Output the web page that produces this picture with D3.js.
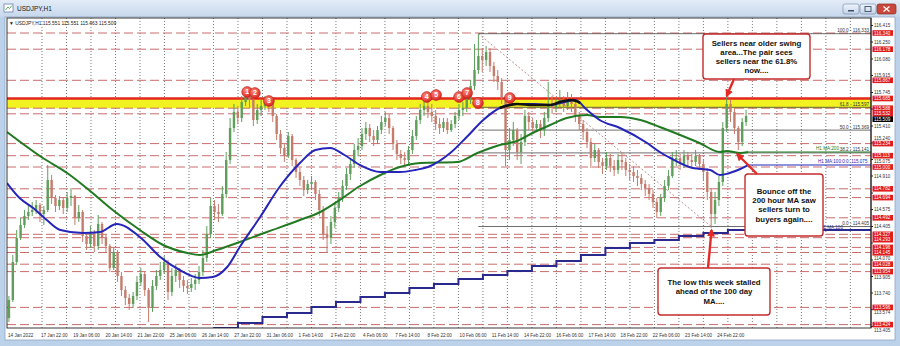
<!DOCTYPE html>
<html>

<head>
    <meta charset="utf-8">
    <title>USDJPY,H1</title>
    <script src="https://d3js.org/d3.v7.min.js"></script>
    <style>
        body {
            margin: 0;
            background: #bcd2ea;
            font-family: 'Liberation Sans', Arial, sans-serif;
        }

        svg {
            display: block;
        }
    </style>
</head>

<body>
    <div id="chart"></div>
    <script>
        // 4-hour candles (price)
        const opens = [113.49, 113.67, 114.05, 114.29, 114.42, 114.51, 114.55, 114.57, 114.62, 114.53,
            114.57, 114.87, 114.69, 114.61, 114.67, 114.59, 114.69, 114.71, 114.49, 114.55,
            114.31, 114.23, 114.35, 114.21, 114.43, 114.29, 114.21, 113.99, 114.15, 113.91,
            113.77, 113.69, 113.63, 113.71, 113.85, 113.93, 113.77, 113.59, 113.81, 113.91,
            113.97, 114.05, 113.75, 113.91, 113.97, 113.87, 113.81, 113.79, 113.83, 113.87,
            113.95, 114.09, 114.33, 114.61, 114.55, 114.53, 114.73, 115.07, 115.39, 115.55,
            115.49, 115.65, 115.71, 115.67, 115.47, 115.57, 115.61, 115.67, 115.63, 115.51,
            115.33, 115.19, 115.11, 115.31, 115.07, 114.95, 114.87, 114.77, 114.83, 114.85,
            114.73, 114.57, 114.33, 114.29, 114.45, 114.59, 114.69, 114.81, 114.93, 115.03,
            115.17, 115.21, 115.33, 115.39, 115.31, 115.27, 115.37, 115.45, 115.49, 115.39,
            115.23, 115.13, 115.09, 115.07, 115.17, 115.31, 115.47, 115.57, 115.61, 115.55,
            115.51, 115.43, 115.39, 115.45, 115.37, 115.43, 115.51, 115.57, 115.59, 115.67,
            115.81, 115.97, 116.11, 116.07, 116.15, 116.01, 115.91, 115.85, 115.69, 115.17,
            115.27, 115.37, 115.15, 115.25, 115.51, 115.45, 115.39, 115.43, 115.37, 115.49,
            115.63, 115.59, 115.63, 115.67, 115.61, 115.67, 115.63, 115.51, 115.43, 115.35,
            115.25, 115.09, 115.17, 115.05, 115.01, 115.09, 115.01, 114.97, 115.07, 115.05,
            114.97, 114.95, 114.91, 114.89, 114.83, 114.79, 114.73, 114.65, 114.55, 114.69,
            114.81, 114.91, 115.07, 115.09, 115.03, 115.11, 115.07, 115.05, 115.11, 115.03,
            114.95, 114.75, 114.53, 114.67, 114.85, 115.39, 115.63, 115.55, 115.39, 115.25,
            115.45];
        const highs = [113.71, 114.12, 114.37, 114.49, 114.57, 114.62, 114.65, 114.67, 114.64, 114.61,
            115.02, 114.92, 114.72, 114.71, 114.69, 114.75, 114.79, 114.72, 114.62, 114.57,
            114.35, 114.41, 114.37, 114.52, 114.45, 114.33, 114.23, 114.19, 114.17, 113.95,
            113.81, 113.73, 113.75, 113.91, 113.99, 113.95, 113.79, 113.87, 113.97, 114.05,
            114.11, 114.07, 113.99, 114.03, 113.99, 113.91, 113.87, 113.89, 113.93, 114.01,
            114.17, 114.41, 114.69, 114.67, 114.63, 114.81, 115.15, 115.49, 115.63, 115.61,
            115.71, 115.75, 115.75, 115.71, 115.63, 115.67, 115.71, 115.70, 115.65, 115.53,
            115.37, 115.23, 115.35, 115.33, 115.09, 114.99, 114.91, 114.87, 114.91, 114.87,
            114.77, 114.61, 114.41, 114.51, 114.65, 114.75, 114.87, 114.99, 115.09, 115.23,
            115.29, 115.39, 115.45, 115.43, 115.37, 115.41, 115.51, 115.55, 115.53, 115.41,
            115.27, 115.17, 115.15, 115.21, 115.37, 115.51, 115.63, 115.67, 115.69, 115.63,
            115.57, 115.49, 115.49, 115.49, 115.47, 115.55, 115.63, 115.65, 115.73, 115.87,
            116.23, 116.33, 116.19, 116.21, 116.19, 116.05, 115.97, 115.89, 115.71, 115.39,
            115.45, 115.39, 115.33, 115.57, 115.55, 115.49, 115.47, 115.47, 115.55, 115.85,
            115.71, 115.69, 115.77, 115.71, 115.75, 115.73, 115.67, 115.55, 115.47, 115.39,
            115.29, 115.23, 115.19, 115.09, 115.15, 115.13, 115.07, 115.13, 115.15, 115.09,
            115.03, 115.01, 114.97, 114.93, 114.87, 114.83, 114.77, 114.69, 114.73, 114.87,
            114.97, 115.15, 115.17, 115.13, 115.17, 115.15, 115.13, 115.17, 115.13, 115.07,
            114.99, 114.79, 114.75, 114.91, 115.45, 115.70, 115.67, 115.59, 115.41, 115.49,
            115.57];
        const lows = [113.45, 113.65, 114.02, 114.27, 114.39, 114.47, 114.51, 114.53, 114.45, 114.42,
            114.55, 114.63, 114.55, 114.57, 114.53, 114.55, 114.61, 114.42, 114.45, 114.25,
            114.17, 114.19, 114.15, 114.17, 114.23, 114.15, 113.95, 113.97, 113.85, 113.71,
            113.62, 113.57, 113.59, 113.67, 113.81, 113.71, 113.45, 113.55, 113.77, 113.87,
            113.93, 113.67, 113.71, 113.85, 113.79, 113.75, 113.73, 113.75, 113.77, 113.83,
            113.91, 114.05, 114.29, 114.47, 114.45, 114.51, 114.69, 115.03, 115.35, 115.43,
            115.45, 115.61, 115.59, 115.41, 115.43, 115.51, 115.57, 115.55, 115.45, 115.27,
            115.13, 115.05, 115.09, 115.01, 114.89, 114.81, 114.71, 114.73, 114.77, 114.67,
            114.51, 114.27, 114.15, 114.23, 114.39, 114.55, 114.65, 114.77, 114.87, 114.99,
            115.11, 115.17, 115.27, 115.25, 115.21, 115.23, 115.33, 115.41, 115.33, 115.17,
            115.07, 115.03, 115.01, 115.03, 115.13, 115.27, 115.43, 115.51, 115.49, 115.45,
            115.37, 115.33, 115.35, 115.33, 115.35, 115.39, 115.47, 115.51, 115.55, 115.63,
            115.77, 115.93, 115.95, 116.01, 115.95, 115.85, 115.77, 115.63, 115.01, 115.07,
            115.21, 115.07, 115.03, 115.21, 115.37, 115.35, 115.35, 115.29, 115.31, 115.45,
            115.53, 115.55, 115.59, 115.55, 115.57, 115.55, 115.45, 115.37, 115.27, 115.19,
            114.99, 115.05, 114.99, 114.93, 114.97, 114.95, 114.91, 114.93, 114.97, 114.91,
            114.87, 114.85, 114.81, 114.77, 114.71, 114.67, 114.59, 114.49, 114.51, 114.65,
            114.77, 114.89, 115.01, 114.97, 114.99, 115.01, 114.99, 115.01, 114.97, 114.87,
            114.67, 114.39, 114.43, 114.61, 114.81, 115.35, 115.45, 115.33, 115.17, 115.21,
            115.41];
        const closes = [113.67, 114.05, 114.29, 114.42, 114.51, 114.55, 114.57, 114.62, 114.53, 114.57,
            114.87, 114.69, 114.61, 114.67, 114.59, 114.69, 114.71, 114.49, 114.55, 114.31,
            114.23, 114.35, 114.21, 114.43, 114.29, 114.21, 113.99, 114.15, 113.91, 113.77,
            113.69, 113.63, 113.71, 113.85, 113.93, 113.77, 113.59, 113.81, 113.91, 113.97,
            114.05, 113.75, 113.91, 113.97, 113.87, 113.81, 113.79, 113.83, 113.87, 113.95,
            114.09, 114.33, 114.61, 114.55, 114.53, 114.73, 115.07, 115.39, 115.55, 115.49,
            115.65, 115.71, 115.67, 115.47, 115.57, 115.61, 115.67, 115.63, 115.51, 115.33,
            115.19, 115.11, 115.31, 115.07, 114.95, 114.87, 114.77, 114.83, 114.85, 114.73,
            114.57, 114.33, 114.29, 114.45, 114.59, 114.69, 114.81, 114.93, 115.03, 115.17,
            115.21, 115.33, 115.39, 115.31, 115.27, 115.37, 115.45, 115.49, 115.39, 115.23,
            115.13, 115.09, 115.07, 115.17, 115.31, 115.47, 115.57, 115.61, 115.55, 115.51,
            115.43, 115.39, 115.45, 115.37, 115.43, 115.51, 115.57, 115.59, 115.67, 115.81,
            115.97, 116.11, 116.07, 116.15, 116.01, 115.91, 115.85, 115.69, 115.17, 115.27,
            115.37, 115.15, 115.25, 115.51, 115.45, 115.39, 115.43, 115.37, 115.49, 115.63,
            115.59, 115.63, 115.67, 115.61, 115.67, 115.63, 115.51, 115.43, 115.35, 115.25,
            115.09, 115.17, 115.05, 115.01, 115.09, 115.01, 114.97, 115.07, 115.05, 114.97,
            114.95, 114.91, 114.89, 114.83, 114.79, 114.73, 114.65, 114.55, 114.69, 114.81,
            114.91, 115.07, 115.09, 115.03, 115.11, 115.07, 115.05, 115.11, 115.03, 114.95,
            114.75, 114.53, 114.67, 114.85, 115.39, 115.63, 115.55, 115.39, 115.25, 115.45,
            115.51];

        // moving averages: [candle position, price]
        const ma200h = [[0, 115.35], [9.25, 115.09], [15.5, 114.94], [20.5, 114.79], [27.25, 114.57],
        [34.25, 114.37], [40.25, 114.22], [46.5, 114.14], [49.75, 114.12], [54, 114.17], [60, 114.25],
        [67, 114.35], [75.5, 114.47], [80.75, 114.55], [85.75, 114.67], [91, 114.81], [96.25, 114.92],
        [101.25, 115.00], [106.5, 115.04], [116, 115.05], [121.25, 115.14], [127, 115.22], [131.5, 115.26],
        [135.5, 115.34], [140, 115.42], [144.25, 115.49], [149.5, 115.52], [152.75, 115.50], [158, 115.50],
        [163.25, 115.47], [168.25, 115.40], [173.5, 115.32], [178.5, 115.24], [183.75, 115.15],
        [185.5, 115.16], [189, 115.14], [191, 115.15]];
        const ma100h = [[0, 114.84], [3.25, 114.69], [6.75, 114.59], [10.25, 114.47], [13.75, 114.37],
        [19.5, 114.34], [24, 114.35], [28.25, 114.43], [34.25, 114.30], [39.5, 114.10], [44.5, 113.97],
        [49.75, 113.89], [53, 113.90], [56.75, 114.00], [60, 114.20], [65.25, 114.50], [70.25, 114.80],
        [75.5, 115.04], [79.5, 115.17], [83.25, 115.19], [87, 115.12], [91, 115.02], [96.25, 114.95],
        [101.25, 114.95], [105.25, 114.97], [108.5, 115.00], [114.25, 115.14], [118.5, 115.30],
        [122.75, 115.47], [127, 115.59], [131, 115.63], [136, 115.63], [140, 115.62], [143.75, 115.65],
        [146.5, 115.67], [149.5, 115.57], [152.75, 115.47], [158, 115.39], [165, 115.24], [168.25, 115.15],
        [171, 115.09], [176.75, 114.99], [181.25, 114.97], [183.75, 114.92], [186.25, 114.94],
        [189, 114.98], [191, 115.02]];
        const ma100hHighlight = [[127, 115.59], [131.5, 115.63], [135.5, 115.62], [140, 115.62],
        [142.5, 115.65], [145.5, 115.67], [147.75, 115.64]];
        // 100 day MA, one value per day
        const ma100d = [113.39, 113.44, 113.50, 113.54, 113.60, 113.65, 113.70, 113.74, 113.79, 113.83,
            113.88, 113.92, 113.96, 114.01, 114.06, 114.12, 114.19, 114.24, 114.27, 114.31, 114.34, 114.37];

        const levelLines = [116.340, 116.178, 115.867, 115.685, 115.588, 115.532, 115.234, 115.113, 115.000,
            114.782, 114.694, 114.492, 114.327, 114.293, 114.196, 114.145, 114.028, 113.954, 113.596, 113.424];
        const zoneTop = 115.685, zoneBottom = 115.588;
        const fibLevels = [100.0, 61.8, 50.0, 38.2, 0.0];
        const fibPrices = [116.333, 115.597, 115.369, 115.141, 114.405];
        const swingMarkers = [[1, 61.9, 115.75], [2, 63.9, 115.74], [3, 67.5, 115.66], [4, 108.2, 115.70],
        [5, 110.6, 115.72], [6, 116.5, 115.70], [7, 118.6, 115.74], [8, 121.4, 115.64], [9, 129.6, 115.69]];

        const priceTicks = [116.415, 116.250, 116.080, 115.915, 115.745, 115.580, 115.410, 115.240, 115.075,
            114.910, 114.740, 114.575, 114.405, 114.240, 114.070, 113.905, 113.740, 113.574, 113.405];
        const timeLabels = ["14 Jan 2022", "17 Jan 22:00", "19 Jan 06:00", "20 Jan 14:00", "21 Jan 22:00",
            "25 Jan 06:00", "26 Jan 14:00", "27 Jan 22:00", "31 Jan 06:00", "1 Feb 14:00", "2 Feb 22:00",
            "4 Feb 06:00", "7 Feb 14:00", "8 Feb 22:00", "10 Feb 06:00", "11 Feb 14:00", "14 Feb 22:00",
            "16 Feb 06:00", "17 Feb 14:00", "18 Feb 22:00", "22 Feb 06:00", "23 Feb 14:00", "24 Feb 22:00"];
        const lastBar = { o: 115.551, h: 115.551, l: 115.463, c: 115.509 };

        const W = 900, H = 346;
        const pL = 7, pR = 871, pT = 18, pB = 328;
        const x = d3.scaleLinear().domain([0, 222.7]).range([pL, pR]);
        const y = d3.scaleLinear().domain([116.47, 113.39]).range([20, 328]);
        const gridStart = 9.02, gridStep = 6.314, firstDay = 7;
        const labelStart = 8.5, labelStep = 8.3;
        const gridX = (k) => x(gridStart + k * gridStep);

        const svg = d3.select("#chart").append("svg").attr("width", W).attr("height", H);
        const defs = svg.append("defs");

        var tb = defs.append("linearGradient").attr("id", "titlebar").attr("x1", 0).attr("x2", 0).attr("y1", 0).attr("y2", 1);
        tb.append("stop").attr("offset", "0%").attr("stop-color", "#e3ecf7");
        tb.append("stop").attr("offset", "100%").attr("stop-color", "#c6d7ec");
        var btn = defs.append("linearGradient").attr("id", "btn").attr("x1", 0).attr("x2", 0).attr("y1", 0).attr("y2", 1);
        btn.append("stop").attr("offset", "0%").attr("stop-color", "#f1f5fb");
        btn.append("stop").attr("offset", "100%").attr("stop-color", "#c3d2e6");
        var pin = defs.append("radialGradient").attr("id", "pin").attr("cx", "40%").attr("cy", "35%").attr("r", "65%");
        pin.append("stop").attr("offset", "0%").attr("stop-color", "#ff8a7e");
        pin.append("stop").attr("offset", "100%").attr("stop-color", "#d9261f");
        defs.append("marker").attr("id", "arrow").attr("viewBox", "0 0 10 10")
            .attr("refX", 8).attr("refY", 5).attr("markerWidth", 8).attr("markerHeight", 8)
            .attr("markerUnits", "userSpaceOnUse").attr("orient", "auto")
            .append("path").attr("d", "M0,0 L10,5 L0,10 z").attr("fill", "#e22a26");
        defs.append("clipPath").attr("id", "plotclip").append("rect")
            .attr("x", pL).attr("y", pT).attr("width", pR - pL).attr("height", pB - pT);

        // window frame
        svg.append("rect").attr("width", W).attr("height", H).attr("fill", "#bcd2ea");
        svg.append("rect").attr("width", W).attr("height", 17).attr("fill", "url(#titlebar)");
        svg.append("rect").attr("x", 4).attr("y", 4).attr("width", 9).attr("height", 8)
            .attr("fill", "#fff").attr("stroke", "#6c86a8").attr("stroke-width", 0.8);
        svg.append("path").attr("d", "M5.5,10 L8,7 L9.5,8.5 L12,5.5").attr("fill", "none")
            .attr("stroke", "#2a9a3a").attr("stroke-width", 0.8);
        svg.append("text").attr("x", 17).attr("y", 11).attr("font-size", 6.5).attr("fill", "#1b1b1b").text("USDJPY,H1");
        svg.append("rect").attr("x", 843).attr("y", 4).attr("width", 16).attr("height", 10).attr("rx", 2)
            .attr("fill", "url(#btn)").attr("stroke", "#7990b2").attr("stroke-width", 0.7);
        svg.append("rect").attr("x", 848).attr("y", 10).attr("width", 6).attr("height", 1.5).attr("fill", "#3b4f6b");
        svg.append("rect").attr("x", 860).attr("y", 4).attr("width", 16).attr("height", 10).attr("rx", 2)
            .attr("fill", "url(#btn)").attr("stroke", "#7990b2").attr("stroke-width", 0.7);
        svg.append("rect").attr("x", 865).attr("y", 6.5).attr("width", 6).attr("height", 5)
            .attr("fill", "none").attr("stroke", "#3b4f6b").attr("stroke-width", 0.9);
        svg.append("rect").attr("x", 877).attr("y", 4).attr("width", 19).attr("height", 10).attr("rx", 2)
            .attr("fill", "#c9473b").attr("stroke", "#8b2b22").attr("stroke-width", 0.7);
        svg.append("path").attr("d", "M883.5,6.5 L889.5,11.5 M889.5,6.5 L883.5,11.5")
            .attr("stroke", "#fff").attr("stroke-width", 1.3);
        svg.append("rect").attr("x", 5).attr("y", 17).attr("width", 890).attr("height", 323)
            .attr("fill", "#fff").attr("stroke", "#8ea6c4").attr("stroke-width", 0.8);

        const plot = svg.append("g").attr("clip-path", "url(#plotclip)");

        // vertical dotted grid (day boundaries)
        plot.selectAll(".vgrid").data(d3.range(34)).join("line")
            .attr("x1", (k) => gridX(k)).attr("x2", (k) => gridX(k))
            .attr("y1", pT).attr("y2", pB)
            .attr("stroke", "#555").attr("stroke-width", 0.8).attr("stroke-dasharray", "1,2");

        // sell zone
        plot.append("rect").attr("x", pL).attr("width", pR - pL)
            .attr("y", y(zoneTop)).attr("height", y(zoneBottom) - y(zoneTop)).attr("fill", "#f2f220");

        plot.selectAll(".lvl").data(levelLines).join("line")
            .attr("x1", pL).attr("x2", pR).attr("y1", (d) => y(d)).attr("y2", (d) => y(d))
            .attr("stroke", "#c96c6c").attr("stroke-width", 1).attr("stroke-dasharray", "9,4");

        // fibonacci retracement from the 10 Feb high to this week's low
        const fibFrom = 121.5, fibTo = 181.5;
        plot.selectAll(".fib").data(fibPrices).join("line")
            .attr("x1", x(fibFrom)).attr("x2", pR).attr("y1", (d) => y(d)).attr("y2", (d) => y(d))
            .attr("stroke", "#4a4a4a").attr("stroke-width", 0.8);
        plot.append("line").attr("x1", x(fibFrom)).attr("y1", y(fibPrices[0]))
            .attr("x2", x(fibTo)).attr("y2", y(fibPrices[4]))
            .attr("stroke", "#b88080").attr("stroke-width", 0.9).attr("stroke-dasharray", "2,2");

        plot.append("line").attr("x1", pL).attr("x2", pR).attr("y1", y(zoneTop)).attr("y2", y(zoneTop))
            .attr("stroke", "#e5261e").attr("stroke-width", 2.6);

        // 100 day MA (step per day)
        const dayPts = ma100d.map((v, d) => [gridX(firstDay + d), y(v)]);
        dayPts.push([pR, y(ma100d[ma100d.length - 1])]);
        plot.append("path").attr("d", d3.line().curve(d3.curveStepAfter)(dayPts))
            .attr("fill", "none").attr("stroke", "#2a2a8e").attr("stroke-width", 2);

        // candles
        const candles = closes.map((c, i) => ({ i: i, o: opens[i], h: highs[i], l: lows[i], c: c }));
        const upCol = "#5d9f5b", dnCol = "#c47c6c";
        const cg = plot.append("g");
        cg.selectAll(".wick").data(candles).join("line")
            .attr("x1", (d) => x(d.i + 0.5)).attr("x2", (d) => x(d.i + 0.5))
            .attr("y1", (d) => y(Math.max(d.h, d.o, d.c))).attr("y2", (d) => y(Math.min(d.l, d.o, d.c)))
            .attr("stroke", (d) => d.c >= d.o ? upCol : dnCol).attr("stroke-width", 1);
        cg.selectAll(".body").data(candles).join("rect")
            .attr("x", (d) => x(d.i + 0.5) - 1.2).attr("width", 2.4)
            .attr("y", (d) => y(Math.max(d.o, d.c)))
            .attr("height", (d) => Math.max(1, Math.abs(y(d.o) - y(d.c))))
            .attr("fill", (d) => d.c >= d.o ? upCol : dnCol);

        // hourly moving averages
        const maLine = d3.line().x((d) => x(d[0])).y((d) => y(d[1])).curve(d3.curveMonotoneX);
        plot.append("path").attr("d", maLine(ma200h)).attr("fill", "none")
            .attr("stroke", "#217a21").attr("stroke-width", 2);
        plot.append("path").attr("d", maLine(ma100h)).attr("fill", "none")
            .attr("stroke", "#2525b9").attr("stroke-width", 2);
        plot.append("path").attr("d", maLine(ma100hHighlight)).attr("fill", "none")
            .attr("stroke", "#111").attr("stroke-width", 2.6);

        const g200 = ma200h[ma200h.length - 1], b100 = ma100h[ma100h.length - 1];
        plot.append("line").attr("x1", x(g200[0])).attr("x2", pR).attr("y1", y(g200[1])).attr("y2", y(g200[1]))
            .attr("stroke", "#217a21").attr("stroke-width", 1.2);
        plot.append("line").attr("x1", x(b100[0])).attr("x2", pR).attr("y1", y(b100[1])).attr("y2", y(b100[1]))
            .attr("stroke", "#2525b9").attr("stroke-width", 1.2);

        const small = 4.6;
        plot.append("text").attr("x", 816).attr("y", y(g200[1]) - 1.6).attr("font-size", small)
            .attr("fill", "#217a21").text("H1 MA:200");
        plot.append("text").attr("x", 818).attr("y", y(b100[1]) - 1.6).attr("font-size", small)
            .attr("fill", "#2525b9").text("H1 MA:100:0:0: 115.075");
        plot.append("text").attr("x", 820).attr("y", y(ma100d[ma100d.length - 1]) - 1.2).attr("font-size", small)
            .attr("fill", "#2a2a8e").text("D1 MA:100");

        plot.selectAll(".fibl").data(fibPrices).join("text")
            .attr("x", pR - 2).attr("y", (d) => y(d) - 1.6).attr("text-anchor", "end")
            .attr("font-size", small).attr("fill", "#333")
            .text((d, i) => fibLevels[i].toFixed(1) + " - " + d.toFixed(3));

        plot.append("text").attr("x", 9).attr("y", 24.5).attr("font-size", 4.9).attr("fill", "#222")
            .text("\u25BC USDJPY,H1  " + [lastBar.o, lastBar.h, lastBar.l, lastBar.c].map((v) => v.toFixed(3)).join(" "));

        // swing high markers
        const mk = plot.selectAll(".mk").data(swingMarkers).join("g")
            .attr("transform", (d) => "translate(" + x(d[1]) + "," + y(d[2]) + ")");
        mk.append("circle").attr("r", 5.4).attr("fill", "url(#pin)").attr("stroke", "#b71f1a").attr("stroke-width", 0.6);
        mk.append("text").attr("y", 2.4).attr("text-anchor", "middle").attr("font-size", 7)
            .attr("font-weight", "bold").attr("fill", "#fff").text((d) => d[0]);

        // annotation boxes
        const notes = [
            { box: [703, 34, 107, 45], lines: ["Sellers near older swing", "area...The pair sees", "sellers near the 61.8%", "now...."], from: [734, 79], to: [185.5, 115.71] },
            { box: [745, 174, 78, 62], lines: ["Bounce off the", "200 hour MA saw", "sellers turn to", "buyers again...."], from: [757, 174], to: [188.2, 115.13] },
            { box: [658, 268, 112, 47], lines: ["The low this week stalled", "ahead of the 100 day", "MA...."], from: [708, 268], to: [181.6, 114.37] }
        ];
        notes.forEach((n) => {
            const [bx, by, bw, bh] = n.box;
            svg.append("rect").attr("x", bx).attr("y", by).attr("width", bw).attr("height", bh).attr("rx", 3)
                .attr("fill", "#fff").attr("stroke", "#c42c2c").attr("stroke-width", 1.4);
            const lh = 9.2, y0 = by + bh / 2 - (n.lines.length - 1) * lh / 2 + 2.8;
            n.lines.forEach((t, i) => {
                svg.append("text").attr("x", bx + bw / 2).attr("y", y0 + i * lh).attr("text-anchor", "middle")
                    .attr("font-size", 7.8).attr("font-weight", "bold").attr("fill", "#111").text(t);
            });
            svg.append("line").attr("x1", n.from[0]).attr("y1", n.from[1])
                .attr("x2", x(n.to[0])).attr("y2", y(n.to[1]))
                .attr("stroke", "#e22a26").attr("stroke-width", 2.4).attr("marker-end", "url(#arrow)");
        });

        // price axis: tags stacked so they don't collide, labels nudged clear of tags or dropped
        const gap = 5.4;
        const tags = levelLines.map((p) => ({ p: p, fill: "#e01c1c" }));
        tags.push({ p: lastBar.c, fill: "#000" });
        tags.sort((a, b) => b.p - a.p);
        let prevY = -100;
        tags.forEach((t) => {
            t.y = Math.max(y(t.p), prevY + gap);
            prevY = t.y;
        });
        const tagYs = tags.map((t) => t.y);
        const tickPos = priceTicks.map((p) => {
            let yy = y(p);
            const near = tagYs.reduce((a, b) => Math.abs(b - yy) < Math.abs(a - yy) ? b : a);
            if (Math.abs(near - yy) < gap) yy = near + (yy >= near ? gap : -gap);
            const clash = tagYs.some((t) => Math.abs(t - yy) < gap - 0.01);
            return { p: p, y: yy, show: !clash };
        });
        svg.append("line").attr("x1", pR).attr("x2", pR).attr("y1", pT).attr("y2", pB).attr("stroke", "#222");
        svg.selectAll(".ptick").data(priceTicks).join("line")
            .attr("x1", pR).attr("x2", pR + 2).attr("y1", (d) => y(d)).attr("y2", (d) => y(d)).attr("stroke", "#222");
        svg.selectAll(".plab").data(tickPos.filter((t) => t.show)).join("text")
            .attr("x", pR + 3).attr("y", (d) => d.y + 1.6).attr("font-size", small).attr("fill", "#333")
            .text((d) => d.p.toFixed(3));
        const tag = svg.selectAll(".tag").data(tags).join("g")
            .attr("transform", (d) => "translate(" + (pR + 1.5) + "," + d.y + ")");
        tag.append("rect").attr("y", -2.8).attr("width", 20.5).attr("height", 5.6).attr("fill", (d) => d.fill);
        tag.append("text").attr("x", 1.5).attr("y", 1.6).attr("font-size", small).attr("fill", "#fff")
            .text((d) => d.p.toFixed(3));

        // time axis
        svg.selectAll(".tlab").data(timeLabels).join("text")
            .attr("x", (d, k) => x(k === 0 ? 0 : labelStart + (k - 1) * labelStep) + 1)
            .attr("y", 337).attr("font-size", small).attr("fill", "#333").text((d) => d);

        svg.append("rect").attr("x", pL).attr("y", pT).attr("width", pR - pL).attr("height", pB - pT)
            .attr("fill", "none").attr("stroke", "#222").attr("stroke-width", 0.9);
    </script>
</body>

</html>
